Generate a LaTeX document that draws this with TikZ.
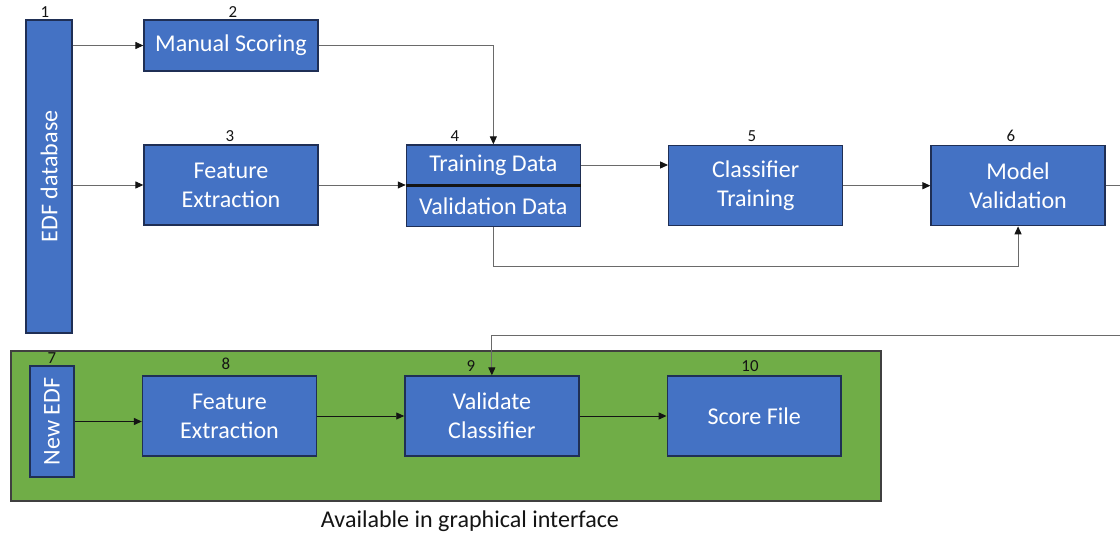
\documentclass[tikz,border=0pt]{standalone}
\usepackage{xcolor}
\usepackage{fontspec}
\setmainfont{Carlito}
\usetikzlibrary{positioning,arrows.meta}
\definecolor{blu}{HTML}{4472C4}
\definecolor{edge}{HTML}{1F2F55}
\definecolor{leaf}{HTML}{70AD47}
\definecolor{rim}{HTML}{404040}
\definecolor{wiregray}{HTML}{6A6A6A}
\definecolor{ink}{HTML}{141414}
\newcommand{\fBox}{\fontsize{13.7}{16.4}\selectfont}
\newcommand{\fNum}{\fontsize{9.6}{11}\selectfont}

\begin{document}
\begin{tikzpicture}[x=0.02cm,y=-0.02cm,
  box/.style={draw=edge,line width=0.8pt,fill=blu,text=white,align=center,font=\fBox,inner sep=0pt,minimum width=3.48cm,minimum height=1.6cm},
  num/.style={font=\fNum,text=ink,inner sep=0pt},
  wire/.style={-{Triangle[length=4.5pt,width=4pt,color=ink]},line width=0.5pt,draw=wiregray}]
  \useasboundingbox (0,0) rectangle (1120,536);
  % panel for the graphical interface
  \node[draw=rim,line width=0.8pt,fill=leaf,minimum width=17.4cm,minimum height=3cm,inner sep=0pt] (gui) at (446,426) {};
  \node[font=\fBox,text=ink] (cap) at (470,521) {Available in graphical interface};
  % top rows
  \node[box,minimum width=0.92cm,minimum height=6.26cm] (edf) at (49,176.5) {\rotatebox{90}{EDF database}};
  \node[box,minimum height=1.02cm] (man) at (231,45.5) {Manual Scoring};
  \node[box] (fe3) at (231,185) {Feature\\Extraction};
  \node[box,minimum height=0.8cm,right=1.74cm of fe3.north east,anchor=north west] (trn) {Training Data};
  \node[box,minimum height=0.8cm,below=0pt of trn] (val) {Validation Data};
  \draw[line width=1.5pt,ink] (trn.south west) -- (trn.south east);
  \node[box,right=1.74cm of val.north east] (clf) {Classifier\\Training};
  \node[box,right=1.74cm of clf] (mod) {Model\\Validation};
  % bottom row
  \node[box,minimum width=0.88cm,minimum height=2.22cm] (new) at (52,421.5) {\rotatebox{90}{New EDF}};
  \node[box] (fe8) at (229.5,416) {Feature\\Extraction};
  \node[box,right=1.74cm of fe8] (vcl) {Validate\\Classifier};
  \node[box,right=1.74cm of vcl] (scr) {Score File};
  % step numbers
  \node[num] (n1) at (45,12) {1};
  \node[num] (n2) at (233,12) {2};
  \node[num] (n3) at (230,136) {3};
  \node[num] (n4) at (455,136) {4};
  \node[num] (n5) at (752,136) {5};
  \node[num] (n6) at (1011,136) {6};
  \node[num] (n7) at (52,358) {7};
  \node[num] (n8) at (226,364) {8};
  \node[num] (n9) at (471,366) {9};
  \node[num] (n10) at (750,366) {10};
  % connectors
  \coordinate (loop) at (1140,335);
  \draw[wire] (edf.east |- man.west) -- (man.west);
  \draw[wire] (edf.east |- fe3.west) -- (fe3.west);
  \draw[wire] (man.east) -| (trn.north);
  \draw[wire] (fe3.east) -- (fe3.east -| trn.west);
  \draw[wire] (trn.east) -- (trn.east -| clf.west);
  \draw[wire] (clf) -- (mod);
  \draw[wire] (val.south) -- ++(0,39) -| (mod.south);
  \draw[wire] (mod.east) -| (loop) -| (vcl.north);
  \draw[wire,draw=ink] (new.east) -- (new.east -| fe8.west);
  \draw[wire,draw=ink] (fe8) -- (vcl);
  \draw[wire,draw=ink] (vcl) -- (scr);
\end{tikzpicture}
\end{document}
